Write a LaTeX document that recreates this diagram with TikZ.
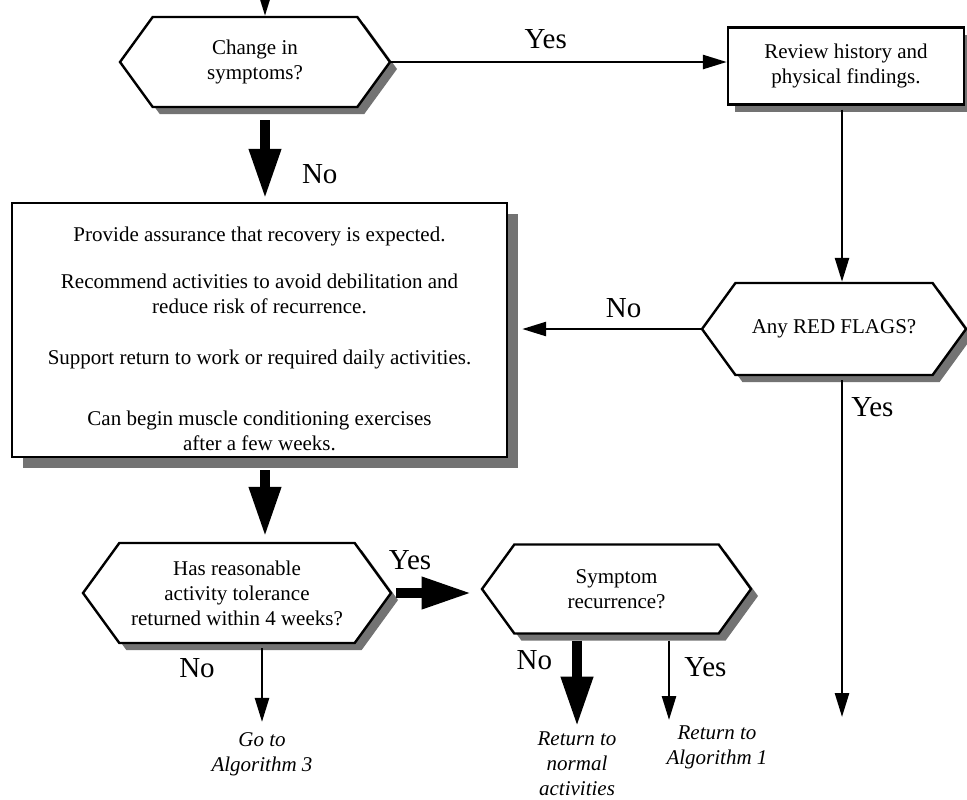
\documentclass[tikz,border=0pt]{standalone}
\usepackage{fontspec}
\setmainfont{Liberation Serif}
\usetikzlibrary{positioning,shapes.symbols,shadows,arrows.meta}

\begin{document}
\begin{tikzpicture}[x=0.5pt,y=-0.5pt,
decision/.style={signal,
  signal to=west and east,
  signal pointer angle=108,
  draw=black,fill=white,line width=1.2pt,
  inner xsep=0pt,inner ysep=0pt,align=center,
  drop shadow={shadow xshift=3.5pt,shadow yshift=-3.5pt,fill=black!55,opacity=1},
  node font=\fontsize{10.5}{12.5}\selectfont
},
action/.style={rectangle,
  draw=black,fill=white,line width=1.2pt,
  inner sep=0pt,align=center,
  drop shadow={shadow xshift=#1,shadow yshift=-#1,fill=black!55,opacity=1},
  node font=\fontsize{10.5}{12.5}\selectfont
},
action/.default=3.5pt,
outcome/.style={align=center,inner sep=1pt,
  node font=\fontsize{10.5}{12.5}\selectfont\itshape},
answer/.style={inner sep=1pt,node font=\fontsize{14.5}{17}\selectfont},
flow/.style={line width=1.3pt,-{Triangle[length=12pt,width=7pt]}},
bigflow/.style={line width=5pt,-{Triangle[length=25pt,width=15pt]}}
]
\useasboundingbox (0,0) rectangle (967,799);

\node (chg) [decision, minimum width=135pt, minimum height=45pt] at (255,62) {Change in\\symptoms?};

\node (review) [action, minimum width=118pt, minimum height=38.5pt] at (846,66) {Review history and\\physical findings.};

\node (flags) [decision, minimum width=132pt, minimum height=46pt] at (834,329) {Any RED FLAGS?};

\node (advice) [action=5.5pt, minimum width=247.5pt, minimum height=127pt] at (259.5,330)
  {\rule{0pt}{16pt}Provide assurance that recovery is expected.\\[11pt]
   Recommend activities to avoid debilitation and\\reduce risk of recurrence.\\[13pt]
   Support return to work or required daily activities.\\[18pt]
   Can begin muscle conditioning exercises\\after a few weeks.};

\node (tolerance) [decision, inner xsep=-12pt, minimum width=154pt, minimum height=50pt] at (237,593) {Has reasonable\\activity tolerance\\returned within 4 weeks?};

\node (recur) [decision, minimum width=134.5pt, minimum height=44.5pt] at (616.5,589) {Symptom\\recurrence?};

\node (alg3) [outcome] at (262,754) {Go to\\Algorithm 3};

\node (normal) [outcome] at (577,764) {Return to\\normal\\activities};

\node (alg1) [outcome] at (717,747) {Return to\\Algorithm 1};

\coordinate (entry) at (265,-14);
\coordinate (flagsend) at (842,717);
\coordinate (recuryes) at (669,720);

\draw [flow] (entry) -- (chg.north -| entry);
\draw [flow] (chg.east) -- (review.west |- chg.east)
  node [answer, pos=0.46, above=5pt] {Yes};
\draw [bigflow, shorten <=6pt, shorten >=1.5pt] (chg.south -| entry) -- (advice.north -| entry)
  node [answer, pos=0.7, right=15pt] {No};
\draw [flow, shorten <=2pt] (review.south -| flagsend) -- (flags.north -| flagsend);
\draw [flow, shorten >=7pt] (flags.west) -- (advice.east |- flags.west)
  node [answer, pos=0.4, above=4pt] {No};
\draw [flow, shorten <=2pt] (flags.south -| flagsend) -- (flagsend)
  node [answer, pos=0.09, right=3pt] {Yes};
\draw [bigflow, shorten <=6pt, shorten >=2.5pt] (advice.south -| entry) -- (tolerance.north -| entry);
\draw [bigflow, shorten <=2pt, shorten >=4.5pt] (tolerance.east) -- (recur.west |- tolerance.east)
  node [answer, pos=0.2, above=8pt] {Yes};
\draw [flow, shorten <=2pt, shorten >=4pt] (tolerance.south -| alg3.north) -- (alg3.north)
  node [answer, pos=0.28, left=22pt] {No};
\draw [bigflow, shorten <=3pt, shorten >=1.5pt] (recur.south -| normal.north) -- (normal.north)
  node [answer, pos=0.27, left=9pt] {No};
\draw [flow, shorten <=3pt] (recur.south -| recuryes) -- (recuryes)
  node [answer, pos=0.38, right=6pt] {Yes};
\end{tikzpicture}
\end{document}
